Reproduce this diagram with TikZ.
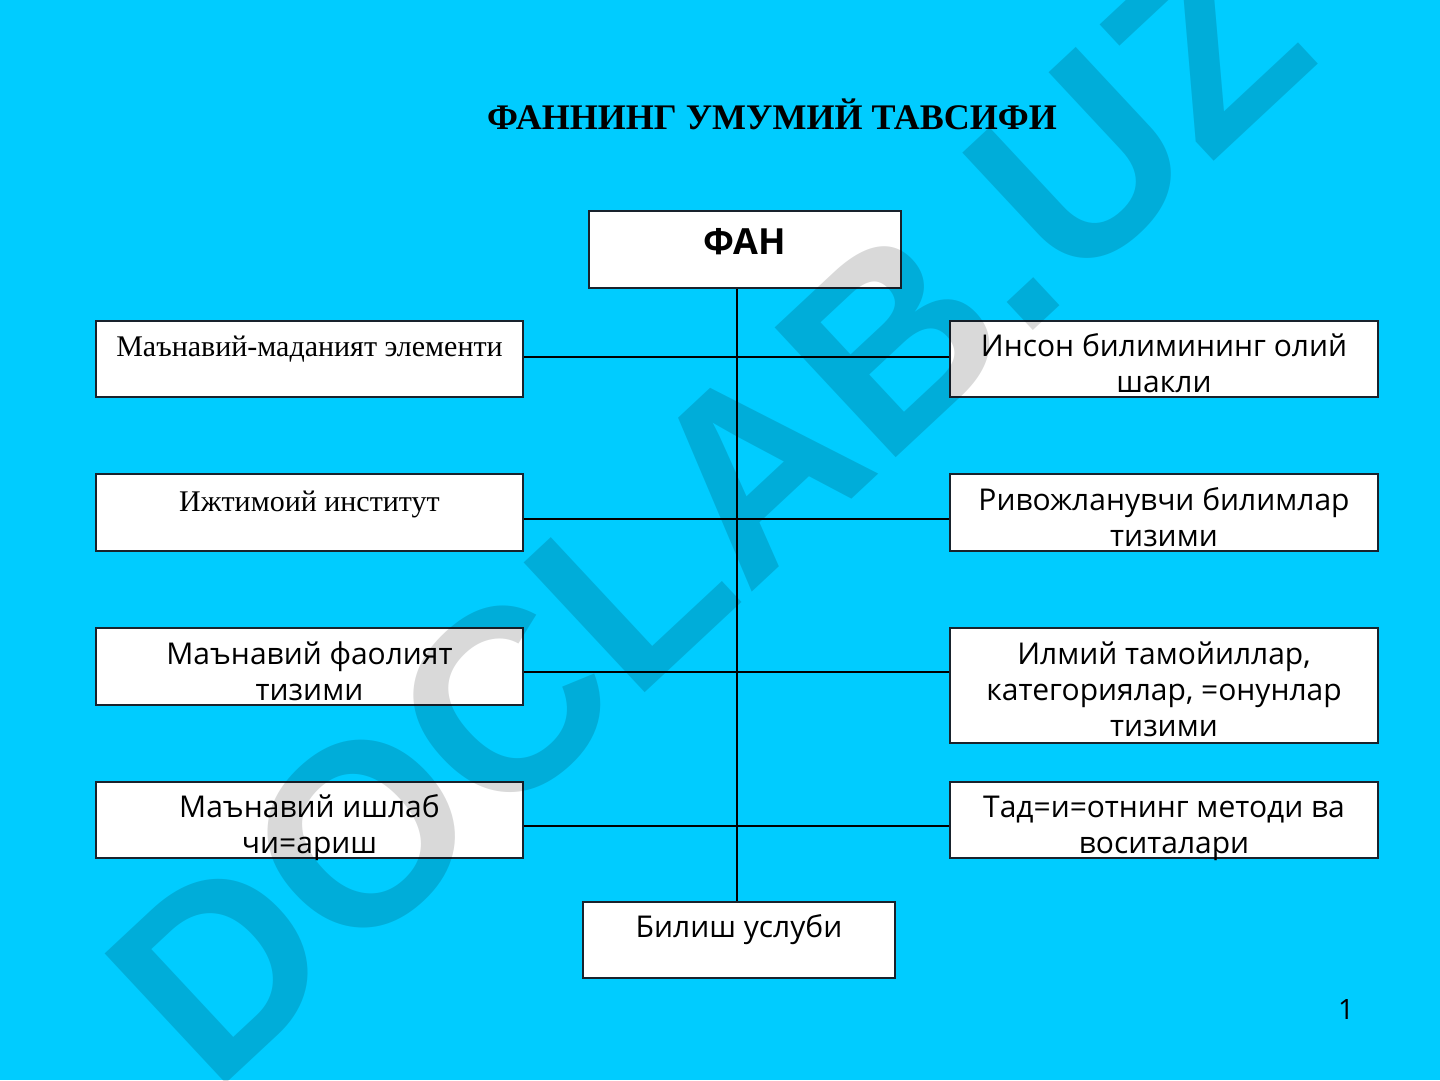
\documentclass[tikz,border=0pt]{standalone}
\usepackage{fontspec}
\setmainfont{Liberation Serif}
\newfontfamily\snf{Open Sans}
\newfontfamily\wmf{Liberation Sans}
\definecolor{bgc}{RGB}{0,204,255}
\definecolor{edgec}{RGB}{25,35,45}
\newcommand{\boxlines}[1]{\begin{tabular}[t]{@{}c@{}}#1\end{tabular}}
\begin{document}
\begin{tikzpicture}[x=1pt,y=-1pt,
  box/.style={draw=edgec, line width=1.4pt, fill=white, rectangle, inner sep=0pt, minimum width=#1},
  box/.default=427pt,
  sanslbl/.style={anchor=base, inner sep=0pt, font=\snf\fontsize{30}{36}\selectfont},
  seriflbl/.style={anchor=base, inner sep=0pt, font=\fontsize{30}{36}\selectfont},
  conn/.style={draw=black, line width=1.3pt}]
\useasboundingbox (0,0) rectangle (1440,1080);
\fill[bgc] (0,0) rectangle (1440,1080);

% title
\node[anchor=base, inner sep=0pt] (title) at (772,129.5) {\bfseries\fontsize{36}{40}\selectfont ФАННИНГ УМУМИЙ ТАВСИФИ};

% boxes
\node[box=312pt, minimum height=77pt] (fan) at (745,249.5) {};
\node[box, minimum height=76pt] (l1) at (309.5,359) {};
\node[box, minimum height=77pt] (l2) at (309.5,512.5) {};
\node[box, minimum height=77pt] (l3) at (309.5,666.5) {};
\node[box, minimum height=76pt] (l4) at (309.5,820) {};
\node[box=428pt, minimum height=76pt] (r1) at (1164,359) {};
\node[box=428pt, minimum height=77pt] (r2) at (1164,512.5) {};
\node[box=428pt, minimum height=115pt] (r3) at (1164,685.5) {};
\node[box=428pt, minimum height=76pt] (r4) at (1164,820) {};
\node[box=312pt, minimum height=76pt] (bil) at (739,940) {};

% connectors
\draw[conn] ([xshift=-2pt]bil.north |- fan.south) -- ([xshift=-2pt]bil.north);
\draw[conn] ([yshift=2pt]l1.east) -- ([yshift=2pt]r1.west);
\draw[conn] ([yshift=-6.5pt]l2.east) -- ([yshift=-6.5pt]r2.west);
\draw[conn] ([yshift=-5.5pt]l3.east) -- ([yshift=-5.5pt]l3.east -| r3.west);
\draw[conn] ([yshift=-6pt]l4.east) -- ([yshift=-6pt]r4.west);

% labels
\node[anchor=base, inner sep=0pt] (fant) at ([yshift=-44pt]fan.north) {\snf\bfseries\fontsize{36}{38}\selectfont ФАН};
\node[seriflbl] (l1t) at ([yshift=-35.7pt]l1.north) {Маънавий-маданият элементи};
\node[seriflbl] (l2t) at ([yshift=-37.7pt]l2.north) {Ижтимоий институт};
\node[sanslbl] (l3t) at ([yshift=-37pt]l3.north) {\boxlines{Маънавий фаолият\\тизими}};
\node[sanslbl] (l4t) at ([yshift=-36pt]l4.north) {\boxlines{Маънавий ишлаб\\чи=ариш}};
\node[sanslbl] (r1t) at ([yshift=-36pt]r1.north) {\boxlines{Инсон билимининг олий\\шакли}};
\node[sanslbl] (r2t) at ([yshift=-37pt]r2.north) {\boxlines{Ривожланувчи билимлар\\тизими}};
\node[sanslbl] (r3t) at ([yshift=-37pt]r3.north) {\boxlines{Илмий тамойиллар,\\категориялар, =онунлар\\тизими}};
\node[sanslbl] (r4t) at ([yshift=-36pt]r4.north) {\boxlines{Тад=и=отнинг методи ва\\воситалари}};
\node[sanslbl] (bilt) at ([yshift=-36pt]bil.north) {Билиш услуби};

% page number
\node[anchor=base, inner sep=0pt] (pg) at (1346,1019) {\snf\fontsize{28}{30}\selectfont 1};

% watermark
\node[rotate=43, text=black, text opacity=0.15, inner sep=0pt] (wm) at (708,512) {\wmf\bfseries\fontsize{258}{258}\selectfont DOCLAB.UZ};
\end{tikzpicture}
\end{document}
